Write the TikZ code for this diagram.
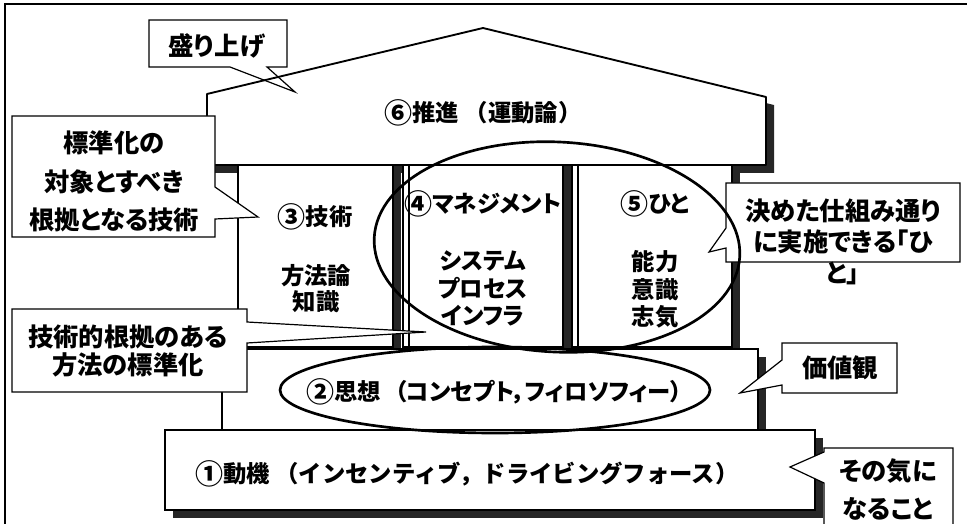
\documentclass[tikz,border=0pt]{standalone}
\usepackage{graphicx}
\usepackage{fontspec}
\setmainfont{Noto Sans CJK JP}
\newfontfamily\paltfont{Noto Sans CJK JP}[RawFeature=+palt]
\newcommand\cnum[1]{\raisebox{-0.08em}{\scalebox{1.2}{#1}}}
\begin{document}
\begin{tikzpicture}[x=0.75pt,y=-0.75pt,
  box/.style={draw=black, fill=white, line width=1.1pt},
  shadow/.style={fill=black!85, draw=none},
  callout/.style={draw=black, fill=white, line width=0.9pt, line join=miter},
  ring/.style={draw=black, line width=2pt},
  lbl/.style={font=\paltfont\fontsize{17.5}{#1}\selectfont\bfseries, align=center, inner sep=0pt},
  lbl/.default=20,
  wide/.style={font=\fontsize{17.5}{20}\selectfont\bfseries, align=center, inner sep=0pt},
  note/.style={font=\paltfont\fontsize{19}{#1}\selectfont\bfseries, align=center, inner sep=0pt},
  note/.default=24]
\useasboundingbox (0,0) rectangle (967,524);
\clip (0,0) rectangle (967,524);
\fill[white] (0,0) rectangle (967,524);
% frame
\draw[line width=1.2pt] (5,540) -- (5,4) -- (980,4);
% roof shadow
\fill[shadow] (215,173) -- (215,102) -- (491,36) -- (774,105) -- (774,173) -- cycle;
% column shadows
\fill[shadow] (246,173) rectangle (401,355);
\fill[shadow] (411,173) rectangle (571,355);
\fill[shadow] (580,173) rectangle (740,355);
% columns
\draw[box] (238,165) rectangle (393,347);
\draw[box] (403,165) rectangle (563,347);
\draw[line width=0.8pt] (409,165) -- (409,347);
\draw[box] (572,165) rectangle (732,347);
\draw[line width=0.8pt] (578,165) -- (578,347);
% platform 2
\fill[shadow] (230,357) rectangle (766,440);
\draw[box] (222,349) rectangle (758,432);
% platform 1
\fill[shadow] (173,438) rectangle (823,518);
\draw[box] (165,430) rectangle (815,510);
% roof
\draw[box, line width=1.4pt, line join=round] (207,165) -- (207,94) -- (483,28) -- (766,97) -- (766,165) -- cycle;
% callouts
\fill[white] (149,20) rectangle (287,67);
\draw[callout, fill=none] (149,20) -- (287,20) -- (287,67) -- (267,67) -- (295,92) -- (230,67) -- (149,67) -- cycle;
\draw[callout] (12,116) -- (215,116) -- (215,187) -- (258,217) -- (215,219) -- (215,237) -- (12,237) -- cycle;
\draw[callout] (12,309) -- (247,309) -- (247,322) -- (426,332) -- (247,343) -- (247,392) -- (12,392) -- cycle;
\draw[callout] (726,183) -- (960,183) -- (960,262) -- (726,262) -- (726,248) -- (709,252) -- (726,228) -- cycle;
\draw[callout] (782,343) -- (897,343) -- (897,393) -- (782,393) -- (782,385) -- (740,393) -- (782,360) -- cycle;
\draw[callout] (824,448) -- (953,448) -- (953,540) -- (824,540) -- (824,483) -- (790,467) -- (824,452) -- cycle;
% ellipses
\draw[ring, rotate around={-3:(557,247)}] (557,247) ellipse [x radius=183, y radius=105];
\draw[ring] (495,390) ellipse [x radius=215, y radius=43];
% texts
\node[wide] (roof) at (483,113) {\cnum{⑥}推進 （運動論）};
\node[lbl] (tech) at (315,217) {\cnum{③}技術};
\node[lbl=19.5] (techsub) at (316,289) {方法論\\知識};
\node[lbl] (mgmt) at (483,204) {\cnum{④}マネジメント};
\node[lbl=20.6] (mgmtsub) at (483,288.5) {システム\\プロセス\\インフラ};
\node[lbl] (hito) at (655,204) {\cnum{⑤}ひと};
\node[lbl=20.6] (hitosub) at (655,289.5) {能力\\意識\\志気};
\node[lbl] (shiso) at (494,392) {\cnum{②}思想\hspace{0.6em}（コンセプト，フィロソフィー）};
\node[wide] (doki) at (467,474) {\cnum{①}動機 （インセンティブ，ドライビングフォース）};
\node[note] (moriage) at (217,46) {盛り上げ};
\node[note=28.9] (hyojun) at (114,181.5) {標準化の\\対象とすべき\\根拠となる技術};
\node[note=21] (konkyo) at (128,351) {技術的根拠のある\\方法の標準化};
\node[note=23.25] (kimeta) at (843,242) {決めた仕組み通り\\に実施できる「ひ\\と」};
\node[note] (kachi) at (840,368) {価値観};
\node[note=28.5] (sonoki) at (888,490) {その気に\\なること};
\end{tikzpicture}
\end{document}
